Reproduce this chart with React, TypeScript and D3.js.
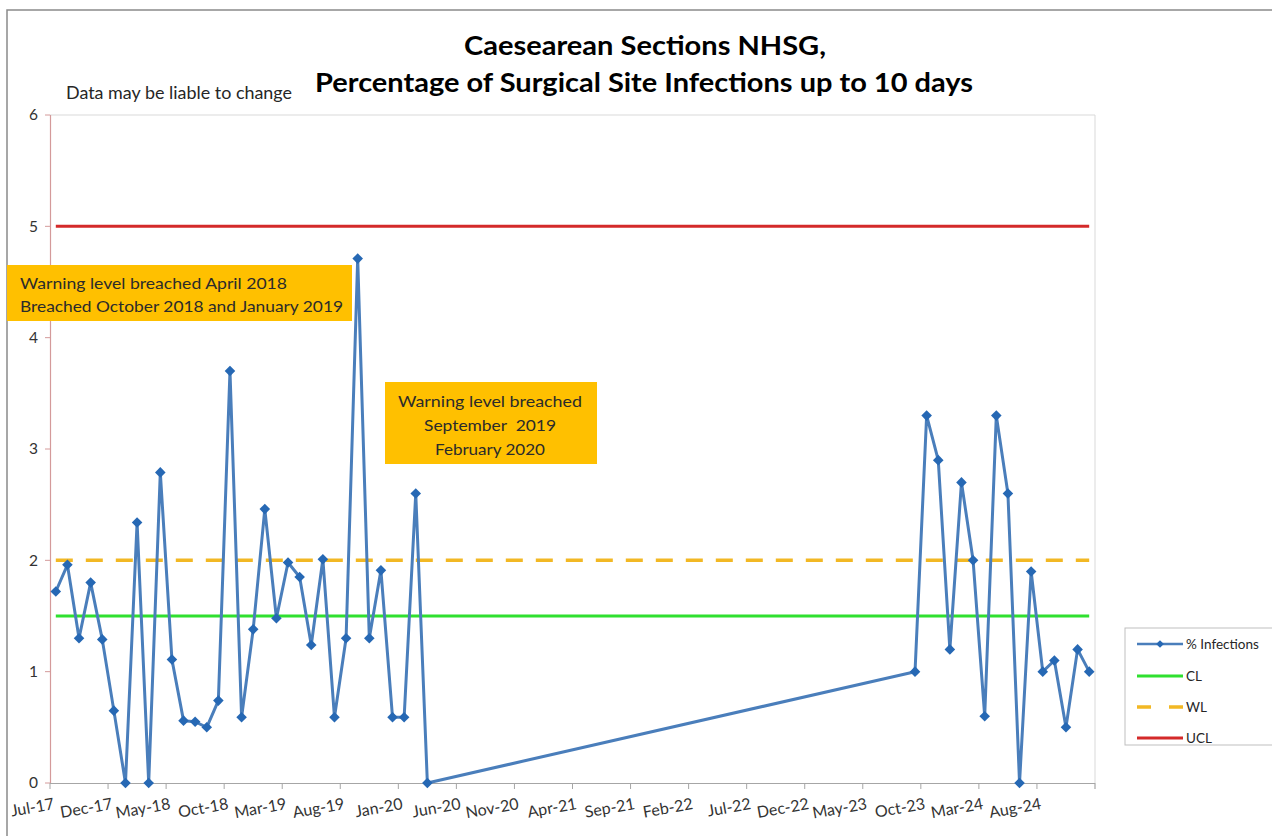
import React from "react";
import * as d3 from "d3";

// ---- data ----
const months = [
  "Jul-17","Aug-17","Sep-17","Oct-17","Nov-17","Dec-17","Jan-18","Feb-18","Mar-18","Apr-18",
  "May-18","Jun-18","Jul-18","Aug-18","Sep-18","Oct-18","Nov-18","Dec-18","Jan-19","Feb-19",
  "Mar-19","Apr-19","May-19","Jun-19","Jul-19","Aug-19","Sep-19","Oct-19","Nov-19","Dec-19",
  "Jan-20","Feb-20","Mar-20",
  "Sep-23","Oct-23","Nov-23","Dec-23","Jan-24","Feb-24","Mar-24","Apr-24","May-24","Jun-24",
  "Jul-24","Aug-24","Sep-24","Oct-24","Nov-24","Dec-24",
];
const infections = [
  1.72, 1.96, 1.30, 1.80, 1.29, 0.65, 0, 2.34, 0, 2.79,
  1.11, 0.56, 0.55, 0.50, 0.74, 3.70, 0.59, 1.38, 2.46, 1.48,
  1.98, 1.85, 1.24, 2.01, 0.59, 1.30, 4.71, 1.30, 1.91, 0.59,
  0.59, 2.60, 0,
  1.0, 3.3, 2.9, 1.2, 2.7, 2.0, 0.6, 3.3, 2.6, 0,
  1.9, 1.0, 1.1, 0.5, 1.2, 1.0,
];
const CL = 1.5;
const WL = 2;
const UCL = 5;
const axisStart = "Jul-17";
const axisEnd = "Jan-25";
const tickLabels = [
  "Jul-17","Dec-17","May-18","Oct-18","Mar-19","Aug-19","Jan-20","Jun-20","Nov-20",
  "Apr-21","Sep-21","Feb-22","Jul-22","Dec-22","May-23","Oct-23","Mar-24","Aug-24",
];
const yTicks = [0, 1, 2, 3, 4, 5, 6];
const legendItems = ["% Infections", "CL", "WL", "UCL"];

const parse = d3.timeParse("%b-%y");
const monthIndex = (s: string) => {
  const d = parse(s)!;
  const b = parse(axisStart)!;
  return (d.getFullYear() - b.getFullYear()) * 12 + d.getMonth() - b.getMonth();
};

const FONT = "Lato, 'Open Sans', sans-serif";

export default function App() {
  const x = d3.scaleLinear().domain([0, monthIndex(axisEnd)]).range([50, 1095]);
  const y = d3.scaleLinear().domain([0, 6]).range([783, 115]);
  const pts = months.map((m, i) => ({ x: x(monthIndex(m) + 0.5), y: y(infections[i]) }));
  const line = d3.line<{ x: number; y: number }>().x((d) => d.x).y((d) => d.y);
  const x0 = pts[0].x;
  const x1 = pts[pts.length - 1].x;
  const diamond = d3.symbol(d3.symbolSquare, 56)()!;
  const tickXs = [...tickLabels.map((t) => x(monthIndex(t))), x(monthIndex(axisEnd))];

  return (
    <div style={{ position: "absolute", left: 0, top: 0 }}>
      <svg width={1272} height={836} style={{ display: "block", background: "#fff" }} fontFamily={FONT}>
        {/* outer chart border */}
        <rect x={7} y={10} width={1300} height={900} fill="none" stroke="#8a8a8a" strokeWidth={1.5} />

        {/* title */}
        <text x={645} y={55} textAnchor="middle" fontSize={27} fontWeight="bold" fill="#000" textLength={362} lengthAdjust="spacingAndGlyphs">
          Caesearean Sections NHSG,
        </text>
        <text x={644} y={92} textAnchor="middle" fontSize={27} fontWeight="bold" fill="#000" textLength={658} lengthAdjust="spacingAndGlyphs">
          Percentage of Surgical Site Infections up to 10 days
        </text>
        <text x={66} y={99} fontSize={17} fill="#262626" textLength={226} lengthAdjust="spacingAndGlyphs">
          Data may be liable to change
        </text>

        {/* plot area border (top/right) */}
        <line x1={50} x2={1095} y1={115} y2={115} stroke="#d9d9d9" strokeWidth={1} />
        <line x1={1095} x2={1095} y1={115} y2={789} stroke="#d9d9d9" strokeWidth={1} />

        {/* y axis */}
        <line x1={50.5} x2={50.5} y1={115} y2={783} stroke="#d49a9a" strokeWidth={1.2} />
        {yTicks.map((t) => (
          <g key={t}>
            <line x1={45} x2={50} y1={y(t)} y2={y(t)} stroke="#d49a9a" strokeWidth={1} />
            <text x={38} y={y(t)} dy="0.35em" textAnchor="end" fontSize={15.5} fill="#333">
              {t}
            </text>
          </g>
        ))}

        {/* x axis */}
        <line x1={50} x2={1095} y1={783.5} y2={783.5} stroke="#a6a6a6" strokeWidth={1.2} />
        {tickXs.map((tx, i) => (
          <line key={i} x1={tx} x2={tx} y1={783} y2={789} stroke="#a6a6a6" strokeWidth={1} />
        ))}
        {tickLabels.map((t) => {
          const tx = x(monthIndex(t)) + 5;
          return (
            <text key={t} x={tx} y={809} textAnchor="end" fontSize={16} fill="#333" transform={`rotate(-10, ${tx}, 809)`}>
              {t}
            </text>
          );
        })}

        {/* control lines */}
        <line x1={x0} x2={x1} y1={y(UCL)} y2={y(UCL)} stroke="#d42a2a" strokeWidth={3} />
        <line x1={x0} x2={x1} y1={y(CL)} y2={y(CL)} stroke="#2fe02f" strokeWidth={3} />
        <line x1={x0} x2={x1} y1={y(WL)} y2={y(WL)} stroke="#f2b824" strokeWidth={3.5} strokeDasharray="17 13" />

        {/* series */}
        <path d={line(pts)!} fill="none" stroke="#4a7ebb" strokeWidth={3} strokeLinejoin="round" />
        {pts.map((p, i) => (
          <path key={i} d={diamond} transform={`translate(${p.x},${p.y}) rotate(45)`} fill="#2668b4" />
        ))}

        {/* annotation 1 */}
        <rect x={7} y={265} width={345} height={56} fill="#ffc000" />
        <text x={20} y={289} fontSize={16} fill="#2b2b2b" textLength={267} lengthAdjust="spacingAndGlyphs">
          Warning level breached April 2018
        </text>
        <text x={20} y={312} fontSize={16} fill="#2b2b2b" textLength={323} lengthAdjust="spacingAndGlyphs">
          Breached October 2018 and January 2019
        </text>

        {/* annotation 2 */}
        <rect x={385} y={382} width={212} height={82} fill="#ffc000" />
        <text x={490} y={407} textAnchor="middle" fontSize={16} fill="#2b2b2b" textLength={184} lengthAdjust="spacingAndGlyphs">
          Warning level breached
        </text>
        <text x={490} y={431} textAnchor="middle" fontSize={16} fill="#2b2b2b" style={{ whiteSpace: "pre" }} textLength={132} lengthAdjust="spacingAndGlyphs">
          {"September  2019"}
        </text>
        <text x={490} y={455} textAnchor="middle" fontSize={16} fill="#2b2b2b" textLength={110} lengthAdjust="spacingAndGlyphs">
          February 2020
        </text>

        {/* legend */}
        <rect x={1125} y={628} width={160} height={117} fill="#fff" stroke="#bfbfbf" strokeWidth={1} />
        {legendItems.map((name, i) => {
          const ly = [644, 676, 707, 738][i];
          return (
            <g key={name}>
              {i === 0 && (
                <>
                  <line x1={1137} x2={1183} y1={ly} y2={ly} stroke="#4a7ebb" strokeWidth={2.5} />
                  <path d={d3.symbol(d3.symbolSquare, 30)()!} transform={`translate(1160,${ly}) rotate(45)`} fill="#2668b4" />
                </>
              )}
              {i === 1 && <line x1={1137} x2={1183} y1={ly} y2={ly} stroke="#2fe02f" strokeWidth={3} />}
              {i === 2 && (
                <line x1={1137} x2={1183} y1={ly} y2={ly} stroke="#f2b824" strokeWidth={3.5} strokeDasharray="14 18" />
              )}
              {i === 3 && <line x1={1137} x2={1183} y1={ly} y2={ly} stroke="#d42a2a" strokeWidth={3} />}
              <text x={1186} y={ly} dy="0.35em" fontSize={13.5} fill="#262626">
                {name}
              </text>
            </g>
          );
        })}
      </svg>
    </div>
  );
}
